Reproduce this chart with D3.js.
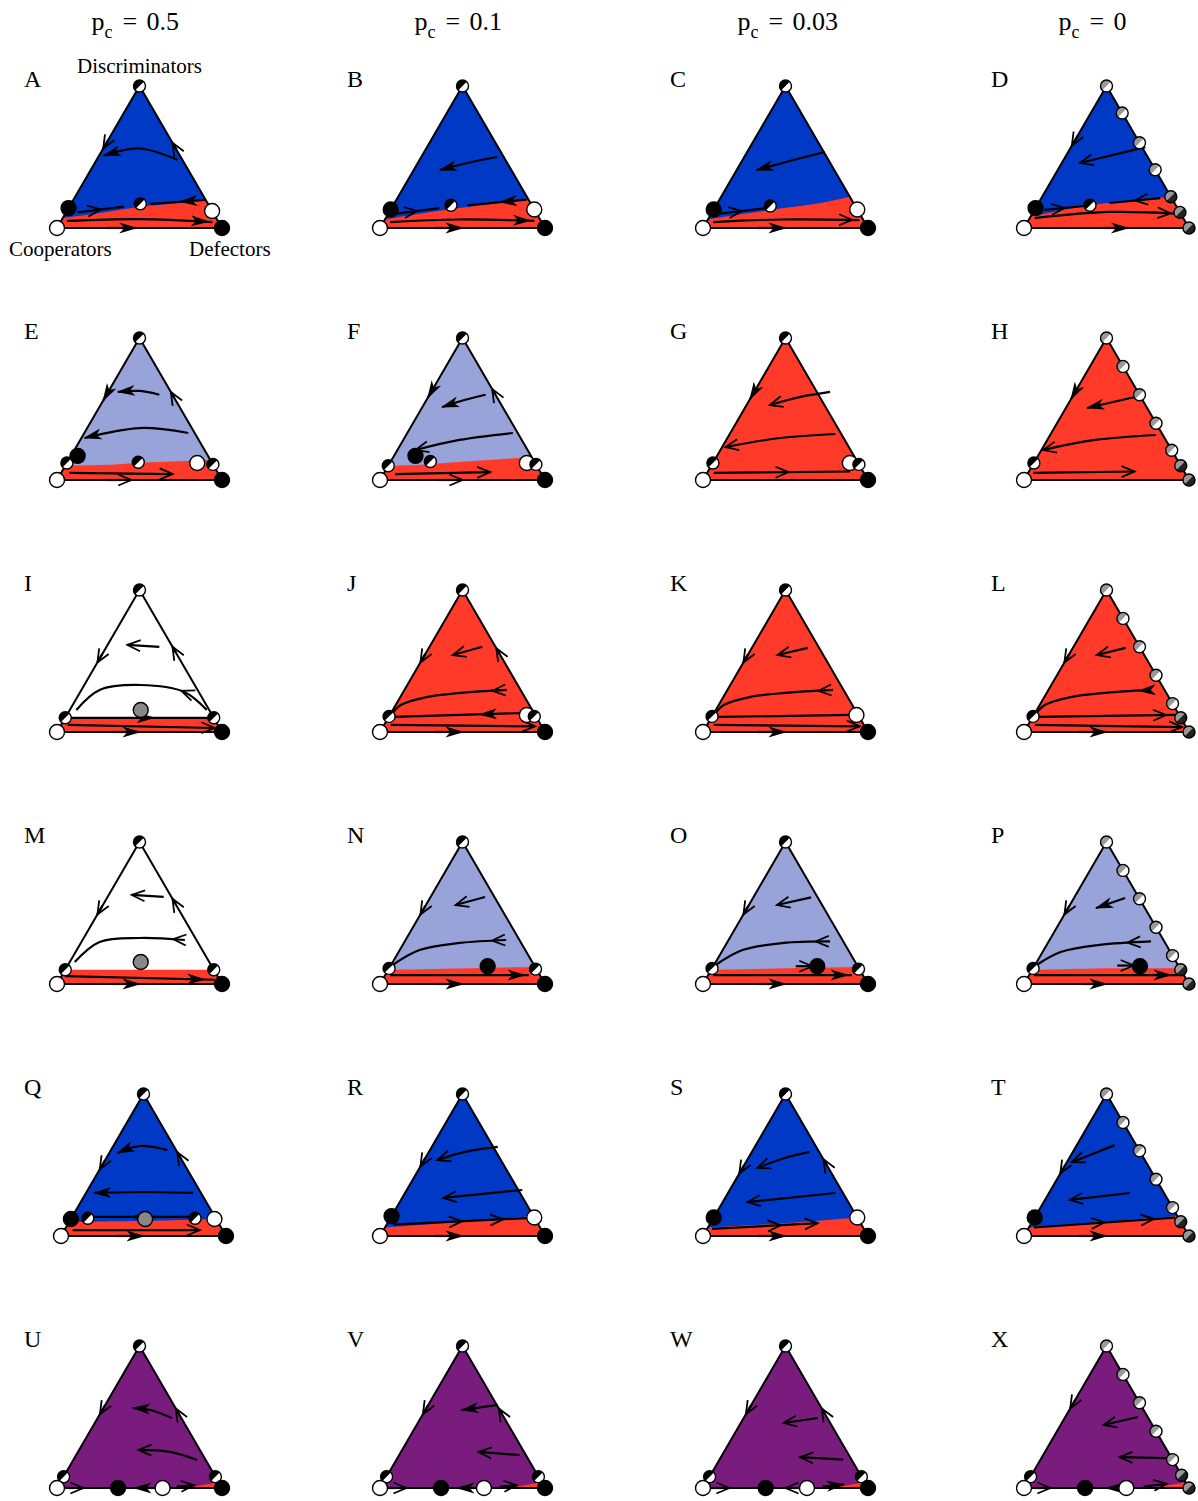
<!DOCTYPE html>
<html>
<head>
<meta charset="utf-8">
<script src="https://cdn.jsdelivr.net/npm/d3@7"></script>
<style>
  body { margin: 0; background: #fff; }
  svg { display: block; }
  text { font-family: "Liberation Serif", "Times New Roman", serif; fill: #000; }
</style>
</head>
<body>
<script>
// column headers (p_c values) and panel letters
var pcValues = ["0.5", "0.1", "0.03", "0"];
var panelLabels = "ABCDEFGHIJKLMNOPQRSTUVWX".split("");

// which basin fills the simplex (background) in each panel
var regime = [
  "disc", "disc", "disc", "disc",
  "mixed", "mixed", "defect", "defect",
  "none", "defect", "defect", "defect",
  "none", "mixed", "mixed", "mixed",
  "disc", "disc", "disc", "disc",
  "coexist", "coexist", "coexist", "coexist"
];

// upper edge of the defector (red) basin, points as [defectors, discriminators]
var redBoundary = [
  [[0,0.07],[0.21,0.105],[0.43,0.15],[0.66,0.176],[0.80,0.20]],
  [[0,0.06],[0.19,0.10],[0.41,0.14],[0.64,0.18],[0.79,0.21]],
  [[0,0.06],[0.20,0.10],[0.42,0.14],[0.64,0.18],[0.78,0.22]],
  [[0,0.08],[0.32,0.16],[0.55,0.19],[0.78,0.22]],
  [[0,0.10],[0.21,0.105],[0.44,0.12],[0.74,0.135],[0.86,0.14]],
  [[0,0.10],[0.22,0.11],[0.45,0.13],[0.70,0.15],[0.84,0.16]],
  [], [],
  [[0,0.10],[0.45,0.10],[0.90,0.10]],
  [], [], [],
  [[0,0.10],[0.45,0.10],[0.90,0.10]],
  [[0,0.10],[0.40,0.11],[0.88,0.12]],
  [[0,0.10],[0.40,0.11],[0.88,0.12]],
  [[0,0.10],[0.40,0.11],[0.89,0.11]],
  [[0,0.10],[0.40,0.105],[0.88,0.12]],
  [[0,0.06],[0.45,0.10],[0.86,0.14]],
  [[0,0.06],[0.45,0.09],[0.87,0.13]],
  [[0,0.06],[0.45,0.10],[0.86,0.14]],
  [[0.78,0],[0.96,0.04]],
  [[0.78,0],[0.96,0.04]],
  [[0.78,0],[0.96,0.04]],
  [[0.78,0],[0.96,0.04]]
];

// trajectories: [points [defectors, discriminators], arrow kind, arrow position(s) along path]
var trajectories = [
  [ // A
    [[[0.49,0.48],[0.22,0.56],[0.03,0.51]], "f", 1],
    [[[0,0.62],[0,0.56]], "o", 1],
    [[[0.45,0.55],[0.40,0.60]], "o", 1],
    [[[0.07,0.11],[0.33,0.15]], "o", 0.5],
    [[[0.80,0.197],[0.48,0.17]], "f", 0.45],
    [[[0.035,0.05],[0.47,0.063],[0.92,0.042]], "f", 0.97],
    [[[0.30,0],[0.48,0]], "f", 1]
  ],
  [ // B
    [[[0.46,0.50],[0.30,0.458],[0.16,0.408]], "f", 1],
    [[[0.04,0.10],[0.29,0.14]], "o", 0.5],
    [[[0.79,0.20],[0.45,0.16]], "f", 0.45],
    [[[0.04,0.042],[0.45,0.06],[0.91,0.05]], "f", 0.97],
    [[[0.33,0],[0.50,0]], "f", 1]
  ],
  [ // C
    [[[0.47,0.535],[0.29,0.472],[0.12,0.408]], "f", 1],
    [[[0.04,0.10],[0.31,0.14]], "o", 0.5],
    [[[0.04,0.042],[0.45,0.06],[0.92,0.056]], "o", 0.95],
    [[[0.33,0],[0.50,0]], "f", 1]
  ],
  [ // D
    [[[0.45,0.57],[0.11,0.458]], "o", 1],
    [[[0,0.65],[0,0.58]], "o", 1],
    [[[0.06,0.127],[0.29,0.155]], "o", 0.5],
    [[[0.72,0.211],[0.43,0.176]], "o", 0.5],
    [[[0.03,0.07],[0.46,0.113],[0.90,0.10]], "o", 0.93],
    [[[0.48,0],[0.63,0]], "f", 1]
  ],
  [ // E
    [[[0.32,0.60],[0.19,0.627],[0.06,0.62]], "f", 1],
    [[[0.42,0.58],[0.38,0.62]], "o", 1],
    [[[0,0.62],[0,0.56]], "f", 1],
    [[[0.63,0.331],[0.32,0.366],[0.02,0.296]], "f", 1],
    [[[0.05,0.05],[0.68,0.042]], "o", 1],
    [[[0.30,0],[0.45,0]], "o", 1]
  ],
  [ // F
    [[[0.34,0.60],[0.23,0.563],[0.12,0.514]], "f", 1],
    [[[0.40,0.60],[0.36,0.64]], "o", 1],
    [[[0,0.64],[0,0.58]], "f", 1],
    [[[0.64,0.331],[0.34,0.282],[0.11,0.211]], "o", 1],
    [[[0.07,0.042],[0.64,0.056]], "o", 1],
    [[[0.35,0],[0.50,0]], "o", 1]
  ],
  [ // G
    [[[0.46,0.62],[0.30,0.585],[0.14,0.528]], "o", 1],
    [[[0.64,0.324],[0.32,0.296],[0.02,0.232]], "o", 1],
    [[[0,0.63],[0,0.57]], "f", 1],
    [[[0.04,0.05],[0.86,0.06]], "o", 0.55]
  ],
  [ // H
    [[[0.43,0.60],[0.13,0.507]], "f", 1],
    [[[0.64,0.317],[0.29,0.282],[0.01,0.211]], "o", 1],
    [[[0,0.63],[0,0.57]], "f", 1],
    [[[0.03,0.05],[0.64,0.06]], "o", 1]
  ],
  [ // I
    [[[0.32,0.60],[0.12,0.613]], "o", 1],
    [[[0.44,0.56],[0.40,0.60]], "o", 1],
    [[[0,0.55],[0,0.49]], "o", 1],
    [[[0.83,0.155],[0.63,0.282],[0.34,0.331],[0.11,0.296],[0.04,0.155]], "o", 0.22],
    [[[0.02,0.10],[0.88,0.10]], "f", 0.6],
    [[[0.04,0.05],[0.94,0.028]], "o", 1],
    [[[0.33,0],[0.50,0]], "f", 1]
  ],
  [ // J
    [[[0.32,0.60],[0.17,0.542]], "o", 1],
    [[[0.45,0.55],[0.41,0.59]], "o", 1],
    [[[0,0.55],[0,0.49]], "o", 1],
    [[[0.62,0.296],[0.35,0.275],[0.16,0.246],[0.03,0.19],[0.01,0.134]], "o", 0.12],
    [[[0.82,0.134],[0.03,0.106]], "f", 0.35],
    [[[0.04,0.05],[0.92,0.04]], "o", 1],
    [[[0.33,0],[0.50,0]], "f", 1]
  ],
  [ // K
    [[[0.34,0.592],[0.18,0.542]], "o", 1],
    [[[0,0.55],[0,0.49]], "o", 1],
    [[[0.64,0.296],[0.36,0.275],[0.16,0.246],[0.03,0.19],[0.01,0.134]], "o", 0.12],
    [[[0.03,0.106],[0.84,0.12]], "n", 1],
    [[[0.04,0.05],[0.93,0.04]], "o", 1],
    [[[0.33,0],[0.50,0]], "f", 1]
  ],
  [ // L
    [[[0.32,0.592],[0.17,0.542]], "o", 1],
    [[[0,0.55],[0,0.49]], "o", 1],
    [[[0.62,0.296],[0.35,0.275],[0.16,0.246],[0.03,0.19],[0.01,0.134]], "f", 0.1],
    [[[0.03,0.106],[0.86,0.12]], "o", 0.93],
    [[[0.04,0.05],[0.94,0.035]], "o", 1],
    [[[0.33,0],[0.50,0]], "f", 1]
  ],
  [ // M
    [[[0.34,0.613],[0.14,0.627]], "o", 1],
    [[[0.44,0.56],[0.40,0.60]], "o", 1],
    [[[0,0.55],[0,0.49]], "o", 1],
    [[[0.62,0.31],[0.34,0.324],[0.11,0.296],[0.03,0.155]], "o", 0.1],
    [[[0.02,0.056],[0.94,0.03]], "f", 0.93],
    [[[0.33,0],[0.50,0]], "f", 1]
  ],
  [ // N
    [[[0.33,0.613],[0.18,0.556]], "o", 1],
    [[[0,0.55],[0,0.49]], "o", 1],
    [[[0.61,0.31],[0.34,0.289],[0.12,0.239],[0.01,0.134]], "o", 0.12],
    [[[0.03,0.063],[0.87,0.063]], "f", 0.97],
    [[[0.33,0],[0.50,0]], "f", 1]
  ],
  [ // O
    [[[0.35,0.61],[0.17,0.556]], "o", 1],
    [[[0,0.55],[0,0.49]], "o", 1],
    [[[0.62,0.30],[0.34,0.289],[0.12,0.239],[0.01,0.134]], "o", 0.12],
    [[[0.03,0.063],[0.87,0.063]], "f", 0.97],
    [[[0.50,0.125],[0.60,0.125]], "o", 1],
    [[[0.33,0],[0.50,0]], "f", 1]
  ],
  [ // P
    [[[0.31,0.606],[0.17,0.535]], "f", 1],
    [[[0,0.55],[0,0.49]], "o", 1],
    [[[0.62,0.30],[0.32,0.275],[0.11,0.225],[0.01,0.134]], "o", 0.2],
    [[[0.03,0.063],[0.90,0.063]], "f", 0.95],
    [[[0.50,0.13],[0.60,0.13]], "o", 1],
    [[[0.36,0],[0.50,0]], "f", 1]
  ],
  [ // Q
    [[[0.34,0.606],[0.16,0.634],[0.05,0.585]], "f", 1],
    [[[0.45,0.55],[0.41,0.59]], "o", 1],
    [[[0,0.53],[0,0.47]], "o", 1],
    [[[0.65,0.303],[0.35,0.31],[0.05,0.303]], "f", 1],
    [[[0.73,0.134],[0.11,0.134]], "f", 0.6],
    [[[0.05,0.042],[0.82,0.042]], "o", 1],
    [[[0.33,0],[0.50,0]], "f", 1]
  ],
  [ // R
    [[[0.40,0.627],[0.22,0.592],[0.08,0.535]], "o", 1],
    [[[0,0.55],[0,0.49]], "o", 1],
    [[[0.70,0.324],[0.25,0.268]], "o", 1],
    [[[0.04,0.08],[0.85,0.127]], "o", [0.5, 0.8]],
    [[[0.33,0],[0.50,0]], "f", 1]
  ],
  [ // S
    [[[0.35,0.592],[0.22,0.549],[0.09,0.479]], "o", 1],
    [[[0.50,0.50],[0.46,0.54]], "o", 1],
    [[[0,0.50],[0,0.44]], "o", 1],
    [[[0.65,0.303],[0.15,0.239]], "o", 1],
    [[[0.03,0.05],[0.65,0.09]], "o", [0.65, 1]],
    [[[0.33,0],[0.50,0]], "f", 1]
  ],
  [ // T
    [[[0.23,0.64],[0.03,0.52]], "o", 1],
    [[[0,0.50],[0,0.44]], "o", 1],
    [[[0.49,0.303],[0.15,0.254]], "o", 1],
    [[[0.03,0.06],[0.85,0.13]], "o", [0.5, 0.85]],
    [[[0.33,0],[0.50,0]], "f", 1]
  ],
  [ // U
    [[[0.45,0.493],[0.29,0.549],[0.18,0.563]], "f", 1],
    [[[0.48,0.52],[0.44,0.56]], "o", 1],
    [[[0,0.58],[0,0.52]], "o", 1],
    [[[0.75,0.197],[0.56,0.254],[0.36,0.268]], "o", 1],
    [[[0.05,0],[0.16,0]], "o", 1],
    [[[0.60,0],[0.47,0]], "f", 1],
    [[[0.72,0.01],[0.82,0.02]], "o", 1]
  ],
  [ // V
    [[[0.42,0.585],[0.22,0.549]], "f", 1],
    [[[0.48,0.52],[0.44,0.56]], "o", 1],
    [[[0,0.58],[0,0.52]], "o", 1],
    [[[0.73,0.232],[0.47,0.254]], "o", 1],
    [[[0.05,0],[0.16,0]], "o", 1],
    [[[0.60,0],[0.47,0]], "f", 1],
    [[[0.72,0.01],[0.82,0.02]], "o", 1]
  ],
  [ // W
    [[[0.45,0.493],[0.26,0.458]], "o", 1],
    [[[0.48,0.52],[0.44,0.56]], "o", 1],
    [[[0,0.58],[0,0.52]], "o", 1],
    [[[0.75,0.20],[0.48,0.218]], "o", 1],
    [[[0.05,0],[0.16,0]], "o", 1],
    [[[0.60,0],[0.50,0]], "o", 1],
    [[[0.72,0.01],[0.84,0.025]], "f", 1]
  ],
  [ // X
    [[[0.44,0.50],[0.26,0.444]], "o", 1],
    [[[0,0.62],[0,0.56]], "o", 1],
    [[[0.76,0.211],[0.47,0.218]], "o", 1],
    [[[0.05,0],[0.16,0]], "o", 1],
    [[[0.60,0],[0.50,0]], "f", 1],
    [[[0.72,0.01],[0.85,0.03]], "o", 1]
  ]
];

// fixed points: [defectors, discriminators, kind]
// kinds: stable, unstable, saddle, neutral, lineUnstable, lineStable
var fixedPoints = [
  [[0,1,"saddle"],[0,0.14,"stable"],[0.42,0.17,"saddle"],[0.88,0.12,"unstable"],[0,0,"unstable"],[1,0,"stable"]],
  [[0,1,"saddle"],[0,0.13,"stable"],[0.35,0.16,"saddle"],[0.87,0.13,"unstable"],[0,0,"unstable"],[1,0,"stable"]],
  [[0,1,"saddle"],[0,0.13,"stable"],[0.33,0.155,"saddle"],[0.87,0.13,"unstable"],[0,0,"unstable"],[1,0,"stable"]],
  [[0,1,"lineUnstable"],[0.19,0.81,"lineUnstable"],[0.40,0.60,"lineUnstable"],[0.59,0.41,"lineUnstable"],
   [0.78,0.22,"lineStable"],[0.89,0.11,"lineStable"],[1,0,"lineStable"],
   [0,0.14,"stable"],[0.32,0.16,"saddle"],[0,0,"unstable"]],
  [[0,1,"saddle"],[0,0.12,"saddle"],[0.04,0.17,"stable"],[0.43,0.125,"saddle"],[0.79,0.12,"unstable"],[0.89,0.11,"saddle"],[0,0,"unstable"],[1,0,"stable"]],
  [[0,1,"saddle"],[0,0.10,"saddle"],[0.13,0.17,"stable"],[0.24,0.13,"saddle"],[0.83,0.12,"unstable"],[0.89,0.11,"saddle"],[0,0,"unstable"],[1,0,"stable"]],
  [[0,1,"saddle"],[0,0.12,"saddle"],[0.83,0.12,"unstable"],[0.89,0.11,"saddle"],[0,0,"unstable"],[1,0,"stable"]],
  [[0,1,"lineUnstable"],[0.20,0.80,"lineUnstable"],[0.40,0.60,"lineUnstable"],[0.60,0.40,"lineUnstable"],[0.79,0.21,"lineUnstable"],
   [0.90,0.10,"lineStable"],[1,0,"lineStable"],[0,0.12,"saddle"],[0,0,"unstable"]],
  [[0,1,"saddle"],[0,0.10,"saddle"],[0.43,0.155,"neutral"],[0.90,0.10,"saddle"],[0,0,"unstable"],[1,0,"stable"]],
  [[0,1,"saddle"],[0,0.11,"saddle"],[0.83,0.12,"unstable"],[0.88,0.11,"saddle"],[0,0,"unstable"],[1,0,"stable"]],
  [[0,1,"saddle"],[0,0.11,"saddle"],[0.87,0.12,"unstable"],[0,0,"unstable"],[1,0,"stable"]],
  [[0,1,"lineUnstable"],[0.20,0.80,"lineUnstable"],[0.40,0.60,"lineUnstable"],[0.60,0.40,"lineUnstable"],[0.80,0.20,"lineUnstable"],
   [0.90,0.10,"lineStable"],[1,0,"lineStable"],[0,0.11,"saddle"],[0,0,"unstable"]],
  [[0,1,"saddle"],[0,0.10,"saddle"],[0.43,0.155,"neutral"],[0.90,0.10,"saddle"],[0,0,"unstable"],[1,0,"stable"]],
  [[0,1,"saddle"],[0,0.11,"saddle"],[0.59,0.125,"stable"],[0.89,0.105,"saddle"],[0,0,"unstable"],[1,0,"stable"]],
  [[0,1,"saddle"],[0,0.11,"saddle"],[0.63,0.125,"stable"],[0.89,0.105,"saddle"],[0,0,"unstable"],[1,0,"stable"]],
  [[0,1,"lineUnstable"],[0.20,0.80,"lineUnstable"],[0.40,0.60,"lineUnstable"],[0.60,0.40,"lineUnstable"],[0.80,0.20,"lineUnstable"],
   [0.90,0.10,"lineStable"],[1,0,"lineStable"],[0.64,0.125,"stable"],[0,0.11,"saddle"],[0,0,"unstable"]],
  [[0,1,"saddle"],[0,0.12,"stable"],[0.10,0.125,"saddle"],[0.45,0.12,"neutral"],[0.75,0.125,"saddle"],[0.87,0.12,"unstable"],[0,0,"unstable"],[1,0,"stable"]],
  [[0,1,"saddle"],[0,0.14,"stable"],[0.87,0.13,"unstable"],[0,0,"unstable"],[1,0,"stable"]],
  [[0,1,"saddle"],[0,0.13,"stable"],[0.87,0.13,"unstable"],[0,0,"unstable"],[1,0,"stable"]],
  [[0,1,"lineUnstable"],[0.20,0.80,"lineUnstable"],[0.40,0.60,"lineUnstable"],[0.60,0.40,"lineUnstable"],[0.80,0.20,"lineUnstable"],
   [0.90,0.10,"lineStable"],[1,0,"lineStable"],[0,0.13,"stable"],[0,0,"unstable"]],
  [[0,1,"saddle"],[0,0.08,"saddle"],[0.37,0,"stable"],[0.64,0,"unstable"],[0.92,0.08,"saddle"],[0,0,"unstable"],[1,0,"stable"]],
  [[0,1,"saddle"],[0,0.08,"saddle"],[0.37,0,"stable"],[0.63,0,"unstable"],[0.92,0.08,"saddle"],[0,0,"unstable"],[1,0,"stable"]],
  [[0,1,"saddle"],[0,0.08,"saddle"],[0.38,0,"stable"],[0.63,0,"unstable"],[0.92,0.08,"saddle"],[0,0,"unstable"],[1,0,"stable"]],
  [[0,1,"lineUnstable"],[0.20,0.80,"lineUnstable"],[0.40,0.60,"lineUnstable"],[0.60,0.40,"lineUnstable"],[0.80,0.20,"lineUnstable"],
   [0.91,0.09,"lineStable"],[1,0,"lineStable"],[0,0.08,"saddle"],[0.37,0,"stable"],[0.62,0,"unstable"],[0,0,"unstable"]]
];

var width = 1198, height = 1501;
var colX = [57, 380, 703, 1024];
var rowY = [228, 480, 732, 984, 1236, 1488];
var side = 165, tall = 142;

var regimeColour = d3.scaleOrdinal()
  .domain(["disc", "mixed", "defect", "none", "coexist"])
  .range(["#0039c6", "#98a3d9", "#ff3a29", "#ffffff", "#7a1c7e"]);
var red = "#ff3a29";

var dotStyle = {
  stable: { base: "#000", half: null, r: 7.5 },
  unstable: { base: "#fff", half: null, r: 7.5 },
  neutral: { base: "#888", half: null, r: 7.5 },
  saddle: { base: "#fff", half: "#000", r: 6 },
  lineUnstable: { base: "#fff", half: "#999", r: 6 },
  lineStable: { base: "#222", half: "#999", r: 6 }
};

var svg = d3.select("body").append("svg")
  .attr("width", width)
  .attr("height", height);

// column titles
pcValues.forEach(function (v, c) {
  var tx = colX[c] + side / 2 - 48;
  var t = svg.append("text").attr("x", tx).attr("y", 30).style("font-size", "26px");
  t.append("tspan").text("p");
  t.append("tspan").attr("dy", 8).style("font-size", "18px").text("c");
  t.append("tspan").attr("x", tx + 31).attr("dy", -8).text("=");
  t.append("tspan").attr("x", tx + 55).text(v);
});

function halfPath(r) {
  var c = r * Math.SQRT1_2;
  return "M" + c + "," + (-c) + "A" + r + "," + r + " 0 0 0 " + (-c) + "," + c + "Z";
}

function addArrow(g, node, t, kind) {
  var L = node.getTotalLength();
  var at = Math.max(2, t * L);
  var p = node.getPointAtLength(at), q = node.getPointAtLength(at - 2);
  var ang = Math.atan2(p.y - q.y, p.x - q.x) * 180 / Math.PI;
  var a = g.append("path")
    .attr("transform", "translate(" + p.x + "," + p.y + ") rotate(" + ang + ")");
  if (kind === "f") {
    a.attr("d", "M1.5,0L-17,-5.5L-12,0L-17,5.5Z").attr("fill", "#000");
  } else {
    a.attr("d", "M-13,-5.5L0,0L-13,5.5").attr("fill", "none")
      .attr("stroke", "#000").attr("stroke-width", 1.8);
  }
}

panelLabels.forEach(function (lab, i) {
  var col = i % 4, row = Math.floor(i / 4);
  var x0 = colX[col] + (lab === "Q" ? 4 : 0);
  var y0 = rowY[row];
  var x = d3.scaleLinear().domain([0, 1]).range([x0, x0 + side]);
  var y = d3.scaleLinear().domain([0, 1]).range([y0, y0 - tall]);
  var px = function (p) { return x(p[0] + p[1] / 2); };
  var py = function (p) { return y(p[1]); };

  var g = svg.append("g");

  svg.append("text")
    .attr("x", colX[col] - 33).attr("y", y0 - 141)
    .style("font-size", "24px")
    .text(lab);

  var corners = [[0, 0], [1, 0], [0, 1]];
  var tri = "M" + corners.map(function (p) { return px(p) + "," + py(p); }).join("L") + "Z";

  g.append("path").attr("d", tri).attr("fill", regimeColour(regime[i]));

  if (redBoundary[i].length) {
    var edge = d3.line().x(px).y(py).curve(d3.curveCatmullRom)(redBoundary[i]);
    g.append("path")
      .attr("d", edge + "L" + px([1, 0]) + "," + py([1, 0]) + "L" + px([0, 0]) + "," + py([0, 0]) + "Z")
      .attr("fill", red);
  }

  g.append("path").attr("d", tri).attr("fill", "none")
    .attr("stroke", "#000").attr("stroke-width", 2).attr("stroke-linejoin", "round");

  var line = d3.line().x(px).y(py).curve(d3.curveCatmullRom);
  trajectories[i].forEach(function (tr) {
    var path = g.append("path")
      .attr("d", line(tr[0]))
      .attr("fill", "none")
      .attr("stroke", "#000")
      .attr("stroke-width", 2.2);
    if (tr[1] === "n") return;
    [].concat(tr[2]).forEach(function (t) { addArrow(g, path.node(), t, tr[1]); });
  });

  fixedPoints[i].forEach(function (fp) {
    var st = dotStyle[fp[2]];
    var dg = g.append("g").attr("transform", "translate(" + px(fp) + "," + py(fp) + ")");
    dg.append("circle").attr("r", st.r).attr("fill", st.base);
    if (st.half) dg.append("path").attr("d", halfPath(st.r)).attr("fill", st.half);
    dg.append("circle").attr("r", st.r).attr("fill", "none")
      .attr("stroke", "#000").attr("stroke-width", 1.4);
  });

  if (i === 0) {
    svg.append("text").attr("x", px([0, 1])).attr("y", 73)
      .attr("text-anchor", "middle").style("font-size", "21px").text("Discriminators");
    svg.append("text").attr("x", 9).attr("y", 256)
      .style("font-size", "21px").text("Cooperators");
    svg.append("text").attr("x", 189).attr("y", 256)
      .style("font-size", "21px").text("Defectors");
  }
});
</script>
</body>
</html>
